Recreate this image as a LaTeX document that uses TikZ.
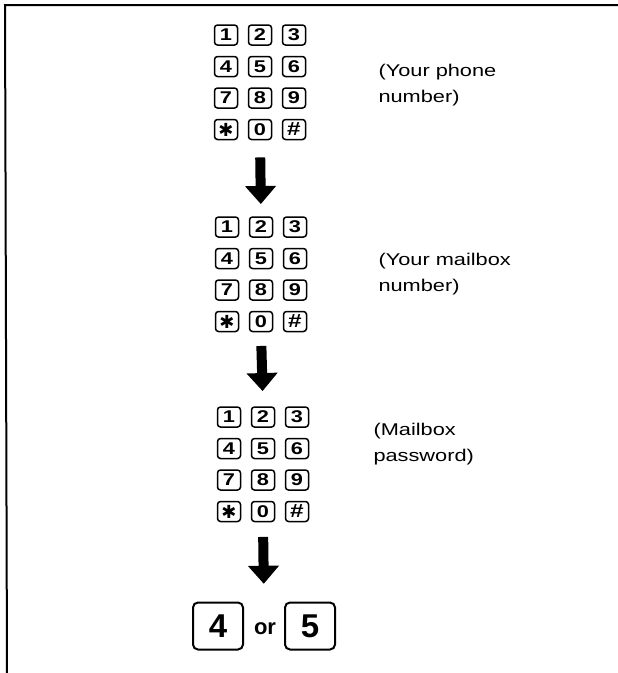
\documentclass[tikz,border=0pt]{standalone}
\usepackage{fontspec}
\setmainfont{Liberation Sans}
\newfontfamily\widefont[FakeStretch=1.28]{Liberation Sans}
\newfontfamily\symfont{DejaVu Sans}
\usetikzlibrary{arrows.meta, positioning, fit}
\tikzset{every node/.append style={align=center}}
\tikzset{
  padkey/.style={draw, line width=1.5pt, rounded corners=3pt,
                 minimum width=23pt, minimum height=20pt, inner sep=0pt,
                 font=\widefont\fontsize{17}{17}\selectfont\bfseries},
  bigkey/.style={draw, line width=2pt, rounded corners=5pt,
                 minimum width=50pt, minimum height=47pt, inner sep=0pt,
                 font=\fontsize{33}{33}\selectfont\bfseries},
  note/.style={align=left, anchor=west,
               font=\widefont\fontsize{17}{26}\selectfont},
  downarrow/.style={line width=10pt, -{Triangle[width=30pt,length=18pt]}},
}

\begin{document}
\begin{tikzpicture}[x=1pt,y=-1pt]
\useasboundingbox (0,0) rectangle (618,673);

% ── Frame ─────────────────────────────────────────────────────────────────────
\draw[line width=2pt] (618,5) -- (5,5) -- (7,673);

% ── Keypads ───────────────────────────────────────────────────────────────────
\foreach \p/\xo/\yo in {1/226/35, 2/227/227, 3/229/417} {
  \foreach \i/\c/\r/\lbl in {1/0/0/1, 2/1/0/2, 3/2/0/3,
                             4/0/1/4, 5/1/1/5, 6/2/1/6,
                             7/0/2/7, 8/1/2/8, 9/2/2/9,
                             10/0/3/{\symfont\fontsize{18}{18}\selectfont ✱},
                             11/1/3/0,
                             12/2/3/{\fontsize{19}{19}\selectfont\#}}
    \node[padkey] (p\p-\i) at (\xo+34*\c, \yo+31.5*\r) {\lbl};
  \node[fit=(p\p-1)(p\p-12), inner sep=0pt] (pad\p) {};
}

% Notes beside each keypad
\node[note] (note1) at (375,85)  {(Your phone\\number)};
\node[note] (note2) at (375,274) {(Your mailbox\\number)};
\node[note] (note3) at (370,444) {(Mailbox\\password)};

% ── Final choice ──────────────────────────────────────────────────────────────
\node[bigkey] (key4) at (218,626) {4};
\node[font=\fontsize{22}{22}\selectfont\bfseries] (or) at (265,629) {or};
\node[bigkey] (key5) at (310,626) {5};
\node[fit=(key4)(key5), inner sep=0pt] (last) {};

% ── Arrows ────────────────────────────────────────────────────────────────────
\draw[downarrow, shorten <=17pt, shorten >=12pt] (pad1.south) -- (pad2.north);
\draw[downarrow, shorten <=13.5pt, shorten >=15pt] (pad2.south) -- (pad3.north);
\draw[downarrow, shorten <=14.5pt, shorten >=17.5pt] (pad3.south) -- (last.north);

\end{tikzpicture}
\end{document}
